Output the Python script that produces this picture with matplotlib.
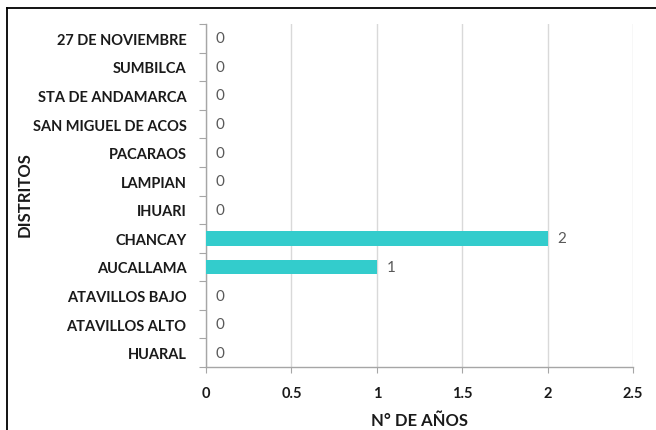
import matplotlib
matplotlib.use("Agg")
import matplotlib.pyplot as plt
from matplotlib.lines import Line2D

districts = ["HUARAL", "ATAVILLOS ALTO", "ATAVILLOS BAJO", "AUCALLAMA", "CHANCAY",
             "IHUARI", "LAMPIAN", "PACARAOS", "SAN MIGUEL DE ACOS",
             "STA DE ANDAMARCA", "SUMBILCA", "27 DE NOVIEMBRE"]
years = [0, 0, 0, 1, 2, 0, 0, 0, 0, 0, 0, 0]
xticks = [0, 0.5, 1, 1.5, 2, 2.5]
xtick_labels = ["0", "0.5", "1", "1.5", "2", "2.5"]

plt.rcParams['font.family'] = ['Lato', 'DejaVu Sans']

W, H = 656, 431
fig = plt.figure(figsize=(W/100, H/100), dpi=100)
ax = fig.add_axes([206/W, 1-368/H, (633-206)/W, (368-25)/H])

pos = list(range(len(districts)))
ax.barh(pos, years, height=0.5, color="#33CCCC", zorder=3)
ax.set_ylim(-0.5, len(districts)-0.5)
ax.set_xlim(0, 2.5)

for p, v in zip(pos, years):
    ax.annotate(str(v), (v, p), xytext=(7, 0), textcoords="offset points",
                ha="left", va="center", fontsize=11, color="#595959")

ax.set_yticks([p - 0.5 for p in pos] + [len(districts) - 0.5])
ax.set_yticklabels([])
ax.set_yticks(pos, minor=True)
ax.set_yticklabels(districts, minor=True, fontsize=10.5, fontweight="bold", color="#1a1a1a")
ax.tick_params(axis="y", which="minor", length=0, pad=14)
ax.tick_params(axis="y", which="major", length=5, color="#a6a6a6", direction="out")

ax.set_xticks(xticks)
ax.set_xticklabels(xtick_labels, fontsize=10.5, fontweight="bold", color="#1a1a1a")
ax.tick_params(axis="x", length=4, color="#a6a6a6", pad=10)

ax.grid(axis="x", color="#d9d9d9", linewidth=1, zorder=0)
for s in ["top", "right"]:
    ax.spines[s].set_visible(False)
for s in ["left", "bottom"]:
    ax.spines[s].set_color("#a6a6a6")
    ax.spines[s].set_linewidth(1)

ax.set_xlabel("N° DE AÑOS", fontsize=12, fontweight="bold", color="#1a1a1a", labelpad=8)
fig.text(25/W, 1-195/H, "DISTRITOS", rotation=90, ha="center", va="center",
         fontsize=12, fontweight="bold", color="#1a1a1a")

fig.add_artist(Line2D([7/W, 7/W], [0, 1-9/H], color="black", linewidth=1.3, transform=fig.transFigure))
fig.add_artist(Line2D([7/W, 1], [1-9/H, 1-9/H], color="black", linewidth=1.3, transform=fig.transFigure))

fig.savefig("out.png", dpi=100)
